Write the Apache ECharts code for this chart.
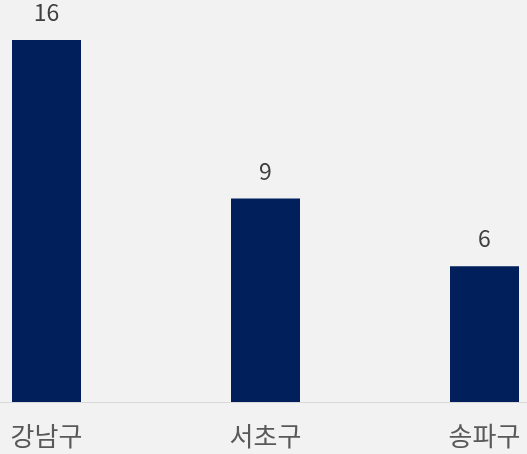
<!DOCTYPE html>
<html>
<head>
<meta charset="utf-8">
<script src="https://cdn.jsdelivr.net/npm/echarts@6/dist/echarts.min.js"></script>
<style>
  html, body { margin: 0; padding: 0; background: #f2f2f2; }
  #chart { width: 527px; height: 454px; }
</style>
</head>
<body>
<div id="chart"></div>
<script>
// District names and counts
const districts = ['강남구', '서초구', '송파구'];
const counts = [16, 9, 6];

const chart = echarts.init(document.getElementById('chart'));
const font = '"Noto Sans CJK KR", "Noto Sans", sans-serif';

chart.setOption({
  backgroundColor: '#f2f2f2',
  animation: false,
  grid: {
    left: -63, right: -67, top: 40, bottom: 52,
    containLabel: false,
    outerBoundsMode: 'none'
  },
  xAxis: {
    type: 'category',
    data: districts,
    axisLine: { show: true, lineStyle: { color: '#d9d9d9', width: 1 } },
    axisTick: { show: false },
    axisLabel: { color: '#595959', fontSize: 26, fontFamily: font, margin: 21 }
  },
  yAxis: {
    type: 'value',
    min: 0,
    max: 16,
    show: false,
    splitLine: { show: false }
  },
  series: [{
    type: 'bar',
    data: counts,
    barWidth: 69,
    itemStyle: { color: '#001f5b' },
    label: {
      show: true,
      position: 'top',
      distance: 16,
      color: '#404040',
      fontSize: 23,
      fontFamily: font
    }
  }]
});
</script>
</body>
</html>
